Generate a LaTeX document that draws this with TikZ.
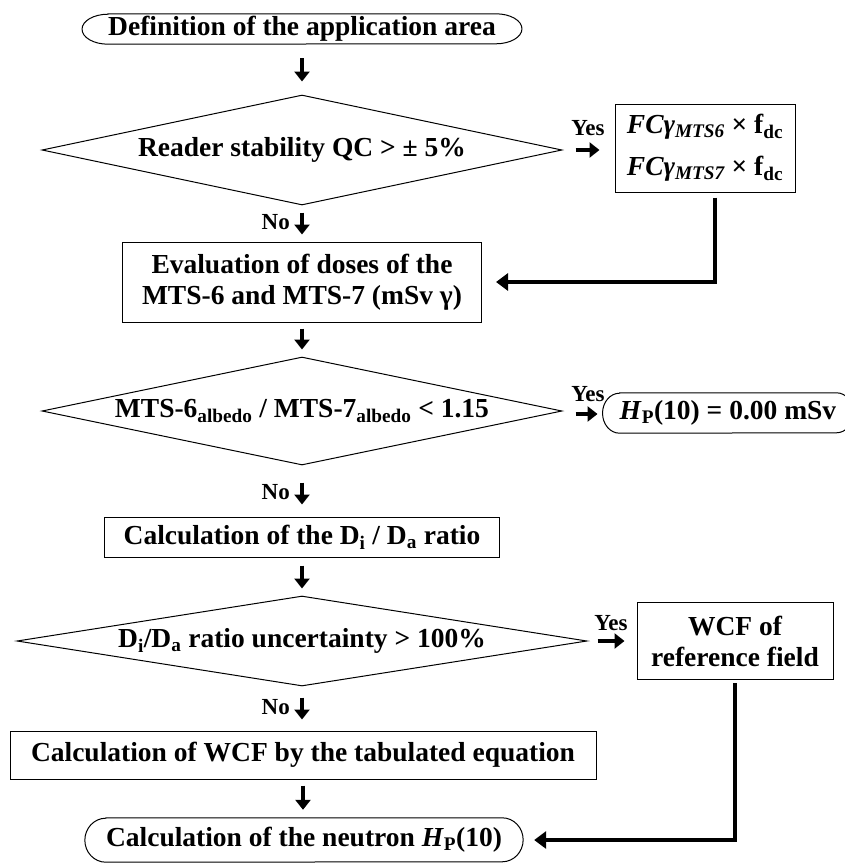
\documentclass[tikz,border=0pt]{standalone}
\usepackage{fontspec}
\setmainfont{Liberation Serif}
\usetikzlibrary{shapes.geometric,arrows.meta}
\begin{document}
\begin{tikzpicture}[x=1pt,y=-1pt,
  font=\fontsize{27.5}{31}\selectfont\bfseries,
  box/.style={draw, line width=1pt, inner sep=3pt, align=center},
  dia/.style={draw, diamond, line width=1pt, inner sep=0pt},
  term/.style={inner sep=0pt},
  ovl/.style={line width=1pt},
  arr/.style={line width=4pt, -{Triangle[length=10pt,width=15pt]}},
  conn/.style={line width=4.5pt, -{Triangle[length=12pt,width=17pt]}},
  lab/.style={inner sep=0pt, font=\fontsize{23}{26}\selectfont\bfseries}]
\useasboundingbox[fill=white] (0,0) rectangle (845,863);

\node[term, minimum height=30pt] (start) at (302,29) {Definition of the application area};
\draw[ovl] (start.north west) -- (start.north east) arc[start angle=90, end angle=-90, x radius=26pt, y radius=15pt]
  -- (start.south west) arc[start angle=270, end angle=90, x radius=26pt, y radius=15pt] -- cycle;

\node[dia, aspect=4.7, minimum width=520pt, minimum height=110pt] (q1) at (302,150) {Reader stability QC > ± 5\%};
\node[box, minimum width=180pt, minimum height=88pt] (fc) at (705,148)
  {{\itshape FCγ\textsubscript{MTS6}} × f\textsubscript{dc}\\[11pt]{\itshape FCγ\textsubscript{MTS7}} × f\textsubscript{dc}};
\node[box, minimum width=359pt, minimum height=80pt] (ev) at (302,282) {Evaluation of doses of the\\MTS-6 and MTS-7 (mSv γ)};
\node[dia, aspect=4.8, minimum width=520pt, minimum height=108pt] (q2) at (302,411)
  {MTS-6\textsubscript{albedo} / MTS-7\textsubscript{albedo} < 1.15};

\node[term, minimum height=40pt] (hp0) at (728,413) {\textit{H}\textsubscript{P}(10) = 0.00 mSv};
\draw[ovl] (hp0.north west) -- (hp0.north east) arc[start angle=90, end angle=-90, x radius=17pt, y radius=20pt]
  -- (hp0.south west) arc[start angle=270, end angle=90, x radius=17pt, y radius=20pt] -- cycle;

\node[box, minimum width=395pt, minimum height=40pt] (ratio) at (302,537) {Calculation of the D\textsubscript{i} / D\textsubscript{a} ratio};
\node[dia, aspect=6.3, minimum width=570pt, minimum height=90pt] (q3) at (302,641)
  {D\textsubscript{i}/D\textsubscript{a} ratio uncertainty > 100\%};
\node[box, minimum width=196pt, minimum height=77pt] (wcf) at (735,641) {WCF of\\reference field};
\node[box, minimum width=586pt, minimum height=48pt] (tab) at (303,755) {Calculation of WCF by the tabulated equation};

\node[term, minimum height=44pt] (end) at (304,840) {Calculation of the neutron \textit{H}\textsubscript{P}(10)};
\draw[ovl] (end.north west) -- (end.north east) arc[start angle=90, end angle=-90, x radius=21pt, y radius=22pt]
  -- (end.south west) arc[start angle=270, end angle=90, x radius=21pt, y radius=22pt] -- cycle;

% vertical flow arrows
\draw[arr, shorten <=14pt, shorten >=13pt] (start.south) -- (start.south |- q1.north);
\draw[arr, shorten <=7pt, shorten >=7pt] (q1.south) -- (q1.south |- ev.north);
\draw[arr, shorten <=6pt, shorten >=7pt] (ev.south) -- (ev.south |- q2.north);
\draw[arr, shorten <=17pt, shorten >=12pt] (q2.south) -- (q2.south |- ratio.north);
\draw[arr, shorten <=8pt, shorten >=7pt] (ratio.south) -- (ratio.south |- q3.north);
\draw[arr, shorten <=11pt, shorten >=11pt] (q3.south) -- (q3.south |- tab.north);
\draw[arr, shorten <=6pt, shorten >=8pt] (tab.south) -- (tab.south |- end.north);

% No labels
\node[lab, anchor=east] (no1) at (290,222) {No};
\node[lab, anchor=east] (no2) at (290,492) {No};
\node[lab, anchor=east] (no3) at (290,707) {No};

% Yes arrows
\draw[arr, shorten <=13pt, shorten >=15pt] (q1.east) -- (q1.east -| fc.west);
\node[lab] (yes1) at (588,128) {Yes};
\coordinate (hpw) at ([xshift=-17pt]hp0.west);
\draw[arr, shorten <=13pt, shorten >=5pt] ([yshift=-3pt]q2.east) -- ([yshift=-3pt]q2.east -| hpw);
\node[lab] (yes2) at (588,394) {Yes};
\draw[arr, shorten <=10pt, shorten >=12pt] (q3.east) -- (q3.east -| wcf.west);
\node[lab] (yes3) at (611,623) {Yes};

% return connectors
\coordinate (c1) at ([xshift=10pt]fc.south);
\draw[conn, shorten <=5pt, shorten >=14pt] (c1) |- (ev.east);
\coordinate (ende) at ([xshift=21pt]end.east);
\draw[conn, shorten <=3pt, shorten >=11pt] (wcf.south) |- (ende);
\end{tikzpicture}
\end{document}
